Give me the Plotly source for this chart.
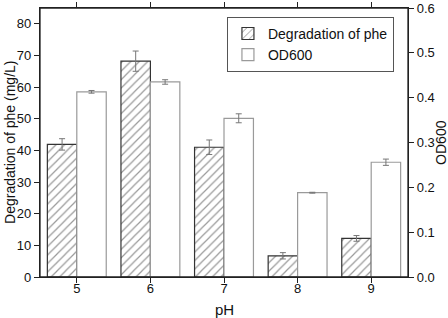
import plotly.graph_objects as go

ph = [5, 6, 7, 8, 9]
tick_labels = ["5", "6", "7", "8", "9"]
degradation = [41.9, 68.2, 41.0, 6.7, 12.2]
degradation_err = [1.8, 3.2, 2.3, 1.0, 0.9]
od600 = [0.413, 0.435, 0.354, 0.188, 0.256]
od600_err = [0.003, 0.005, 0.010, 0.001, 0.007]

fig = go.Figure()
fig.add_trace(go.Bar(
    x=ph, y=degradation, name="Degradation of phe",
    width=0.4, offset=-0.4, yaxis="y",
    marker=dict(color="white", line=dict(color="#333333", width=1.2),
                pattern=dict(shape="/", fgcolor="#333333", bgcolor="white", size=6, solidity=0.2)),
    error_y=dict(type="data", array=degradation_err, color="#777777", thickness=1, width=3),
))
fig.add_trace(go.Bar(
    x=ph, y=od600, name="OD600",
    width=0.4, offset=0.0, yaxis="y2",
    marker=dict(color="white", line=dict(color="#9a9a9a", width=1.2)),
    error_y=dict(type="data", array=od600_err, color="#777777", thickness=1, width=3),
))

font = dict(family="Liberation Sans, Arial, sans-serif", color="#111111")
axis_common = dict(ticks="outside", ticklen=5, tickcolor="#222222", tickwidth=1.2,
                   showline=True, linecolor="#222222", linewidth=1.3,
                   showgrid=False, zeroline=False, automargin=False,
                   tickfont=dict(size=13, **font))
fig.update_layout(
    width=448, height=318, autosize=False,
    margin=dict(l=40, r=40, t=8, b=41, autoexpand=False),
    paper_bgcolor="white", plot_bgcolor="white",
    font=dict(size=13, **font),
    showlegend=True,
    legend=dict(x=0.508, y=0.967, xanchor="left", yanchor="top",
                bordercolor="#555555", borderwidth=1, bgcolor="white",
                font=dict(size=14, **font), tracegroupgap=0, itemwidth=30),
    xaxis=dict(range=[4.5, 9.5], tickvals=ph, ticktext=tick_labels, mirror="all",
               ticklabelstandoff=-6, **axis_common),
    yaxis=dict(range=[0, 85], tickvals=[0, 10, 20, 30, 40, 50, 60, 70, 80], **axis_common),
    yaxis2=dict(range=[0, 0.6], overlaying="y", side="right",
                tickvals=[0.0, 0.1, 0.2, 0.3, 0.4, 0.5, 0.6],
                ticktext=["0.0", "0.1", "0.2", "0.3", "0.4", "0.5", "0.6"], **axis_common),
    shapes=[dict(type="rect", xref="x domain", yref="y domain", x0=0, x1=1, y0=0, y1=1,
                 layer="above", fillcolor="rgba(0,0,0,0)",
                 line=dict(color="#222222", width=1.3))],
    annotations=[
        dict(text="pH", x=0.5, y=-0.122, xref="paper", yref="paper", xanchor="center", yanchor="middle",
             showarrow=False, font=dict(size=15, **font)),
        dict(text="Degradation of phe (mg/L)", x=-0.083, y=0.5, xref="paper", yref="paper",
             xanchor="center", yanchor="middle", textangle=-90, showarrow=False,
             font=dict(size=14, **font)),
        dict(text="OD600", x=1.088, y=0.5, xref="paper", yref="paper",
             xanchor="center", yanchor="middle", textangle=-90, showarrow=False,
             font=dict(size=14, **font)),
    ],
)

fig.write_html("out.html", config={"responsive": False, "displayModeBar": False},
               post_script="document.body.style.margin='0';document.body.style.overflow='hidden';")
